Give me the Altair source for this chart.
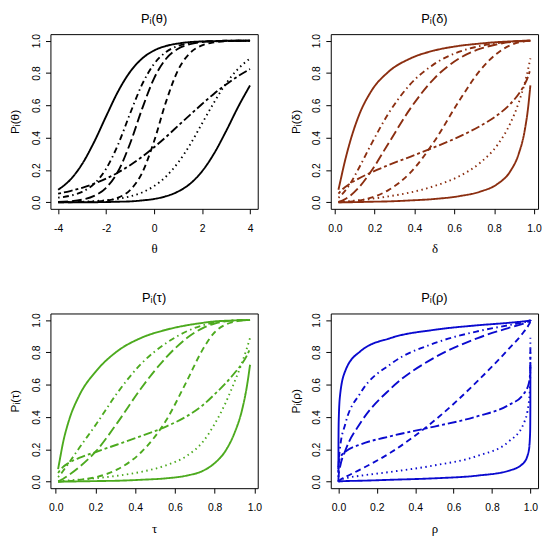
import altair as alt
import pandas as pd

# ability grid (theta) and the three rescaled ability metrics
theta = [-4.0, -3.5, -3.0, -2.5, -2.0, -1.5, -1.0, -0.5, 0.0, 0.5, 1.0, 1.5, 2.0, 2.5, 3.0, 3.5, 4.0]
delta = [0.018, 0.029, 0.047, 0.076, 0.119, 0.182, 0.269, 0.378, 0.500, 0.622, 0.731, 0.818, 0.881, 0.924, 0.953, 0.971, 0.982]
tau = [0.012, 0.021, 0.036, 0.065, 0.118, 0.205, 0.310, 0.430, 0.555, 0.660, 0.740, 0.800, 0.855, 0.900, 0.937, 0.962, 0.978]
rho = [0.000001, 0.000013, 0.00016, 0.00135, 0.0082, 0.0359, 0.1151, 0.2743, 0.5, 0.7257, 0.8849, 0.9641, 0.9918, 0.99865, 0.99984, 0.999987, 0.999999]

# item response probabilities at each grid point (seven items)
p_item1 = [0.078, 0.139, 0.237, 0.373, 0.532, 0.686, 0.807, 0.889, 0.939, 0.967, 0.982, 0.991, 0.995, 0.997, 0.999, 0.999, 1.000]
p_item2 = [0.000, 0.001, 0.002, 0.004, 0.011, 0.029, 0.076, 0.182, 0.378, 0.623, 0.818, 0.924, 0.971, 0.989, 0.996, 0.999, 0.999]
p_item3 = [0.002, 0.003, 0.004, 0.008, 0.013, 0.022, 0.037, 0.061, 0.101, 0.160, 0.246, 0.357, 0.488, 0.618, 0.735, 0.825, 0.890]
p_item4 = [0.029, 0.041, 0.065, 0.114, 0.208, 0.358, 0.549, 0.729, 0.856, 0.930, 0.967, 0.985, 0.993, 0.997, 0.999, 0.999, 1.000]
p_item5 = [0.003, 0.007, 0.017, 0.040, 0.090, 0.192, 0.364, 0.578, 0.767, 0.888, 0.950, 0.978, 0.991, 0.996, 0.998, 0.999, 1.000]
p_item6 = [0.054, 0.070, 0.090, 0.116, 0.147, 0.185, 0.230, 0.282, 0.341, 0.405, 0.473, 0.541, 0.608, 0.672, 0.729, 0.780, 0.824]
p_item7 = [0.000, 0.000, 0.001, 0.001, 0.002, 0.004, 0.006, 0.012, 0.021, 0.038, 0.067, 0.115, 0.192, 0.302, 0.440, 0.589, 0.723]

items = ["item1", "item2", "item3", "item4", "item5", "item6", "item7"]
series = [p_item1, p_item2, p_item3, p_item4, p_item5, p_item6, p_item7]
dashes = [[1, 0], [6, 4], [1.5, 3.5], [1.5, 3.5, 6, 3.5], [10, 4], [3, 3, 9, 3], [1, 0]]

FONT = "Liberation Sans"


def panel(xvals, sym, color, xdomain, xticks, xlabel_expr):
    rows = []
    for name, ps in zip(items, series):
        for i, (xv, pv) in enumerate(zip(xvals, ps)):
            rows.append({"x": xv, "p": pv, "item": name, "i": i})
    df = pd.DataFrame(rows)
    label = "P\u1d62(" + sym + ")"
    return (
        alt.Chart(df)
        .mark_line(color=color, strokeWidth=1.9, interpolate="monotone")
        .encode(
            x=alt.X(
                "x:Q",
                scale=alt.Scale(domain=xdomain, nice=False, zero=False),
                axis=alt.Axis(
                    values=xticks,
                    labelExpr=xlabel_expr,
                    title=sym,
                    titleFont="Liberation Serif",
                    titleFontSize=13,
                    titleFontWeight="normal",
                    titlePadding=9,
                    labelPadding=10,
                ),
            ),
            y=alt.Y(
                "p:Q",
                scale=alt.Scale(domain=[-0.04, 1.04], nice=False, zero=False),
                axis=alt.Axis(
                    values=[0, 0.2, 0.4, 0.6, 0.8, 1.0],
                    labelExpr="format(datum.value, '.1f')",
                    labelAngle=270,
                    labelAlign="center",
                    labelBaseline="bottom",
                    labelPadding=4,
                    title=label,
                    titleFontSize=12,
                    titleFontWeight="normal",
                    titlePadding=10,
                ),
            ),
            strokeDash=alt.StrokeDash(
                "item:N", scale=alt.Scale(domain=items, range=dashes), legend=None
            ),
            detail="item:N",
            order="i:Q",
        )
        .properties(
            width=210,
            height=177,
            title=alt.TitleParams(
                label, fontSize=13, fontWeight="normal", font=FONT, offset=8, anchor="middle"
            ),
        )
    )


p1 = panel(theta, "\u03b8", "#000000", [-4.32, 4.32], [-4, -2, 0, 2, 4], "'' + datum.value")
p2 = panel(delta, "\u03b4", "#8B2E10", [-0.0206, 1.0206], [0, 0.2, 0.4, 0.6, 0.8, 1.0], "format(datum.value, '.1f')")
p3 = panel(tau, "\u03c4", "#4CAA1E", [-0.0266, 1.0166], [0, 0.2, 0.4, 0.6, 0.8, 1.0], "format(datum.value, '.1f')")
p4 = panel(rho, "\u03c1", "#0A0ACF", [-0.04, 1.04], [0, 0.2, 0.4, 0.6, 0.8, 1.0], "format(datum.value, '.1f')")

chart = (
    alt.concat(p1, p2, p3, p4, columns=2, spacing={"row": 106, "column": 74}, bounds="flush")
    .configure(padding=0, background="white", font=FONT)
    .configure_view(stroke="#000000", strokeWidth=1)
    .configure_axis(
        grid=False,
        domain=False,
        ticks=True,
        tickSize=5,
        tickColor="#000000",
        tickWidth=1,
        labelFont=FONT,
        labelFontSize=10.5,
        labelColor="#000000",
        titleFont=FONT,
        titleColor="#000000",
    )
)

chart.save("out.html", embed_options={"renderer": "svg", "actions": False})
